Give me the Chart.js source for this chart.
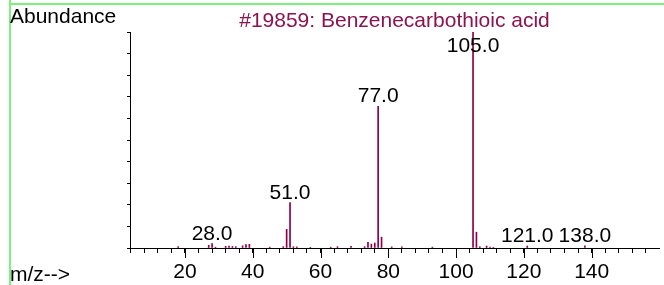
<!DOCTYPE html>
<html lang="en">
<head>
    <meta charset="UTF-8">
    <title>Benzenecarbothioic acid</title>
    <style>
        body { margin: 0; background: #fff; }
        #wrap { position: relative; width: 664px; height: 285px; }
    </style>
</head>
<body>
    <div id="wrap">
        <canvas id="msChart" width="664" height="285"></canvas>
    </div>

    <script src="https://cdn.jsdelivr.net/npm/chart.js"></script>

    <script>
        const titleText = '#19859: Benzenecarbothioic acid';
        const mz = [18, 27, 28, 29, 32, 33, 34, 35, 37, 38, 39, 45, 49, 50, 51, 52, 53, 57, 63, 65,
                    69, 73, 74, 75, 76, 77, 78, 81, 84, 93, 105, 106, 107, 109, 110, 111, 121, 138];
        const abundance = [60, 125, 200, 40, 80, 90, 70, 60, 100, 160, 170, 40, 60, 860, 2100, 60, 50, 30, 40, 60,
                           80, 60, 260, 180, 230, 6545, 500, 50, 50, 40, 9980, 730, 60, 90, 40, 30, 90, 100];
        const labelledPeaks = [28, 51, 77, 105, 121, 138];
        const xTickValues = [4, 8, 12, 16, 20, 24, 28, 32, 36, 40, 44, 48, 52, 56, 60, 64, 68, 72, 76, 80,
                             84, 88, 92, 96, 100, 104, 108, 112, 116, 120, 124, 128, 132, 136, 140, 144, 148, 152, 156];
        const xMajorTicks = [20, 40, 60, 80, 100, 120, 140];
        const yLabelTicks = [5000];

        const font = '21px "Liberation Sans", Arial, sans-serif';

        const extras = {
            id: 'extras',
            beforeDraw(chart) {
                const ctx = chart.ctx;
                ctx.save();
                ctx.fillStyle = '#7df07d';
                ctx.fillRect(9, 0, 2, 285);
                ctx.fillRect(9, 3, 655, 2);
                ctx.restore();
            },
            afterDraw(chart) {
                const ctx = chart.ctx;
                const x = chart.scales.x;
                const y = chart.scales.y;
                ctx.save();

                // longer ticks for labelled x values
                ctx.strokeStyle = '#000';
                ctx.lineWidth = 1;
                xMajorTicks.forEach(v => {
                    const px = Math.round(x.getPixelForValue(v)) + 0.5;
                    ctx.beginPath();
                    ctx.moveTo(px, x.top);
                    ctx.lineTo(px, x.top + 10);
                    ctx.stroke();
                });

                ctx.font = font;
                ctx.fillStyle = '#000';
                ctx.textBaseline = 'alphabetic';
                ctx.textAlign = 'left';
                ctx.fillText('Abundance', 10, 23);
                ctx.fillText('m/z-->', 10, 281);

                ctx.textAlign = 'center';
                labelledPeaks.forEach(m => {
                    const i = mz.indexOf(m);
                    const top = y.getPixelForValue(abundance[i]);
                    const base = Math.max(top - 4, 52);
                    ctx.fillText(m.toFixed(1), x.getPixelForValue(m), base);
                });

                ctx.fillStyle = '#8b1450';
                ctx.fillText(titleText, (chart.chartArea.left + chart.chartArea.right) / 2, 27);
                ctx.restore();
            }
        };

        new Chart(document.getElementById('msChart'), {
            type: 'bar',
            data: {
                datasets: [{
                    data: mz.map((m, i) => ({ x: m, y: abundance[i] })),
                    backgroundColor: '#8c0046',
                    borderWidth: 0,
                    barThickness: 1
                }]
            },
            options: {
                responsive: false,
                animation: false,
                events: [],
                layout: { padding: { top: 32, right: 5, left: 0, bottom: 0 } },
                plugins: { legend: { display: false }, tooltip: { enabled: false } },
                scales: {
                    x: {
                        type: 'linear',
                        min: 3.78,
                        max: 159.87,
                        offset: false,
                        border: { display: true, color: '#000', width: 1 },
                        grid: { offset: false, drawOnChartArea: false, drawTicks: true, tickLength: 5, color: '#000' },
                        ticks: {
                            autoSkip: false,
                            maxRotation: 0,
                            padding: 7,
                            color: '#000',
                            font: { family: '"Liberation Sans", Arial, sans-serif', size: 21 },
                            callback: v => xMajorTicks.includes(v) ? String(v) : ''
                        },
                        afterBuildTicks: s => { s.ticks = xTickValues.map(v => ({ value: v })); },
                        afterFit: s => { s.height = 37; }
                    },
                    y: {
                        min: 0,
                        max: 9980,
                        border: { display: true, color: '#000', width: 1 },
                        grid: { drawOnChartArea: false, drawTicks: true, tickLength: 3, color: '#000' },
                        ticks: {
                            stepSize: 1000,
                            autoSkip: false,
                            padding: 3,
                            color: '#000',
                            font: { family: '"Liberation Sans", Arial, sans-serif', size: 21 },
                            callback: v => yLabelTicks.includes(v) ? String(v) : ''
                        },
                        afterFit: s => { s.width = 130; }
                    }
                }
            },
            plugins: [extras]
        });
    </script>
</body>
</html>
